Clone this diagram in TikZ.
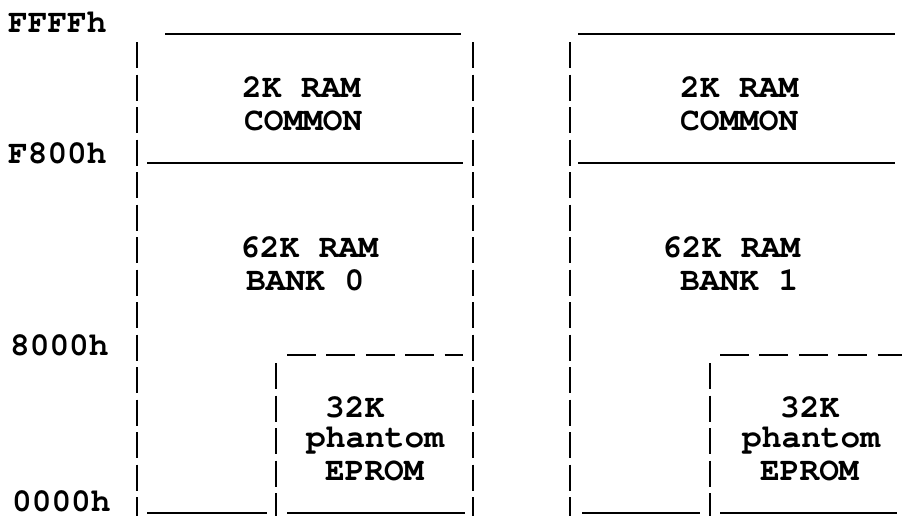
\documentclass[tikz,border=0pt]{standalone}
\usepackage[T1]{fontenc}
\begin{document}
\begin{tikzpicture}[x=1pt,y=-1pt,
  txt/.style={anchor=base west,inner sep=0pt,font=\fontencoding{T1}\fontfamily{pcr}\fontseries{b}\fontsize{32.8}{33}\selectfont},
  solidline/.style={line width=2.4pt},
  vbar/.style={line width=2.6pt,dash pattern=on 26pt off 6.5pt},
  hdash/.style={line width=2.4pt,dash pattern=on 29pt off 10.4pt}]
\useasboundingbox (0,0) rectangle (902,517);
% address labels
\node[txt] (aF) at (8,32) {FFFFh};
\node[txt] (aE) at (8,163) {F800h};
\node[txt] (a8) at (10,355) {8000h};
\node[txt] (a0) at (12,511) {0000h};
% left panel
\draw[solidline] (165,34) -- (461,34);
\draw[solidline] (147,163) -- (463,163);
\draw[vbar] (137,42) -- (137,516);
\draw[vbar] (473,42) -- (473,516);
\draw[vbar] (276,363) -- (276,516);
\draw[hdash] (287,355) -- (463,355);
\draw[solidline] (147,513) -- (267,513);
\draw[solidline] (287,513) -- (465,513);
\node[txt] (l1) at (242,97) {2K RAM};
\node[txt] (l2) at (244,130) {COMMON};
\node[txt] (l3) at (240,257) {62K RAM};
\node[txt] (l4) at (246,290) {BANK 0};
\node[txt] (l5) at (325,417) {32K};
\node[txt] (l6) at (306,447) {phantom};
\node[txt] (l7) at (325,480) {EPROM};
% right panel
\draw[solidline] (578,34) -- (895,34);
\draw[solidline] (578,163) -- (895,163);
\draw[vbar] (570,42) -- (570,516);
\draw[vbar] (710,363) -- (710,516);
\draw[hdash] (720,355) -- (902,355);
\draw[solidline] (582,513) -- (700,513);
\draw[solidline] (720,513) -- (897,513);
\node[txt] (r1) at (680,97) {2K RAM};
\node[txt] (r2) at (680,130) {COMMON};
\node[txt] (r3) at (662,257) {62K RAM};
\node[txt] (r4) at (680,290) {BANK 1};
\node[txt] (r5) at (780,417) {32K};
\node[txt] (r6) at (742,447) {phantom};
\node[txt] (r7) at (760,480) {EPROM};
\end{tikzpicture}
\end{document}
